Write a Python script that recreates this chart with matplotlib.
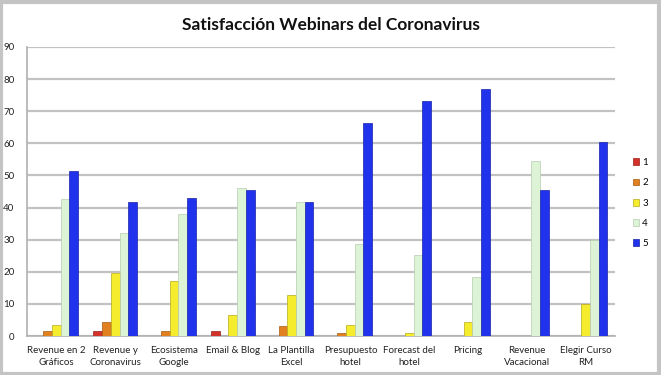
import matplotlib.pyplot as plt
import matplotlib.patches as mpatches
import numpy as np

plt.rcParams['font.family'] = ['Lato', 'DejaVu Sans']

# data
categories = ['Revenue en 2\nGráficos', 'Revenue y\nCoronavirus', 'Ecosistema\nGoogle',
              'Email & Blog', 'La Plantilla\nExcel', 'Presupuesto\nhotel', 'Forecast del\nhotel',
              'Pricing', 'Revenue\nVacacional', 'Elegir Curso\nRM']
series_labels = ['1', '2', '3', '4', '5']
score_1 = [0, 1.5, 0, 1.5, 0, 0, 0, 0, 0, 0]
score_2 = [1.5, 4.5, 1.5, 0, 3.1, 0.8, 0, 0, 0, 0]
score_3 = [3.5, 19.5, 17, 6.5, 12.8, 3.4, 1, 4.3, 0, 10]
score_4 = [42.7, 32, 38, 46, 41.8, 28.8, 25.2, 18.5, 54.4, 29.9]
score_5 = [51.5, 41.8, 43, 45.6, 41.6, 66.2, 73.3, 76.8, 45.4, 60.3]
y_ticks = [0, 10, 20, 30, 40, 50, 60, 70, 80, 90]

colors = ['#d2322a', '#e0801f', '#f6ec2e', '#ddf3d6', '#2132ec']
edges = ['#9a1f1a', '#a85a12', '#b9a91c', '#b8ccb0', '#1622a8']

fig = plt.figure(figsize=(6.61, 3.75), dpi=100)
fig.patch.set_facecolor('white')
# grey frame around the whole chart
fig.patches.append(mpatches.Rectangle((0.002, 0.004), 0.995, 0.992, transform=fig.transFigure,
                                      fill=False, edgecolor='#c4c4c4', linewidth=3))

ax = fig.add_axes([27 / 661, 1 - 336 / 375, (615 - 27) / 661, (336 - 47) / 375])

x = np.arange(len(categories))
width = 0.148
all_scores = [score_1, score_2, score_3, score_4, score_5]
for i, vals in enumerate(all_scores):
    ax.bar(x + (i - 2) * width, vals, width, color=colors[i], edgecolor=edges[i],
           linewidth=0.5, label=series_labels[i], zorder=3)

ax.set_xlim(-0.5, len(categories) - 0.5)
ax.set_ylim(0, 90)
ax.set_yticks(y_ticks)
ax.yaxis.grid(True, color='#c2c2c2', linewidth=1.6, zorder=0)
ax.set_axisbelow(True)
ax.tick_params(axis='y', length=0, labelsize=7, pad=9, colors='#222222')
ax.tick_params(axis='x', length=0, labelsize=7, pad=7, colors='#222222')
ax.set_xticks(x)
ax.set_xticklabels(categories, linespacing=1.5)

for s in ['top', 'right']:
    ax.spines[s].set_visible(False)
ax.spines['left'].set_color('#b0b0b0')
ax.spines['bottom'].set_color('#b0b0b0')
ax.spines['left'].set_linewidth(1.2)
ax.spines['bottom'].set_linewidth(1.2)

fig.text(0.5, 1 - 25 / 375, 'Satisfacción Webinars del Coronavirus', ha='center', va='center',
         fontsize=12.5, fontweight='bold', color='#111111')

ax.legend(loc='center left', bbox_to_anchor=(1.015, 0.46), frameon=False, fontsize=7,
          handlelength=0.7, handleheight=0.7, handletextpad=0.3, labelspacing=1.15)

fig.savefig('out.png', dpi=100)
